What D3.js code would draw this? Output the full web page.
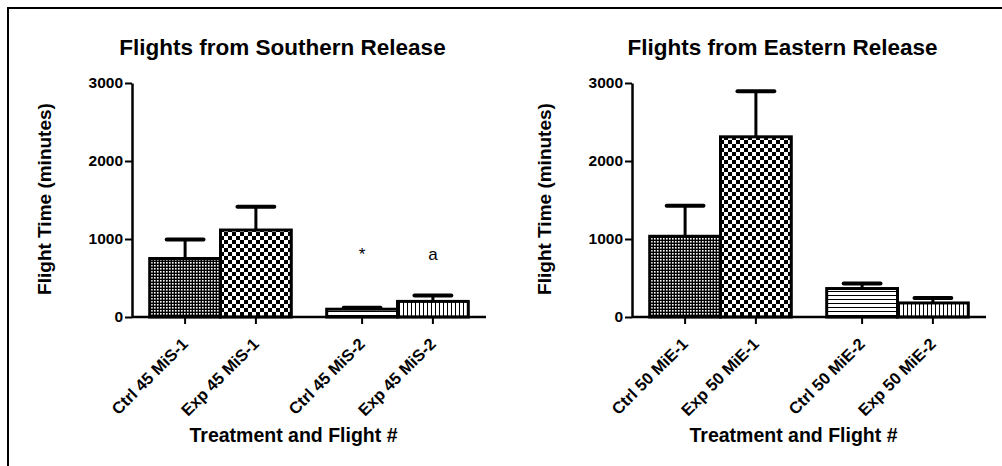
<!DOCTYPE html>
<html>
<head>
<meta charset="utf-8">
<script src="https://cdn.jsdelivr.net/npm/d3@7"></script>
<style>
  html, body { margin: 0; padding: 0; background: #fff; }
  svg { display: block; font-family: "Liberation Sans", Arial, sans-serif; }
</style>
</head>
<body>
<div id="chart"></div>
<script>
const southLabels = ['Ctrl 45 MiS-1', 'Exp 45 MiS-1', 'Ctrl 45 MiS-2', 'Exp 45 MiS-2'];
const southMeans = [750, 1115, 100, 200];
const southErrors = [245, 300, 20, 75];
const southMarks = ['', '', '*', 'a'];

const eastLabels = ['Ctrl 50 MiE-1', 'Exp 50 MiE-1', 'Ctrl 50 MiE-2', 'Exp 50 MiE-2'];
const eastMeans = [1035, 2310, 365, 180];
const eastErrors = [390, 585, 65, 65];
const eastMarks = ['', '', '', ''];

const flightGroups = ['1', '1', '2', '2'];
const yTicks = [0, 1000, 2000, 3000];
const markValue = 730;

const width = 1002;
const height = 466;
const axisColor = '#000';

const svg = d3.select('#chart')
  .append('svg')
  .attr('width', width)
  .attr('height', height);

// page frame, runs off the right and bottom edges
svg.append('rect')
  .attr('x', 8)
  .attr('y', 8)
  .attr('width', width + 20)
  .attr('height', height + 20)
  .attr('fill', 'none')
  .attr('stroke', axisColor)
  .attr('stroke-width', 2);

const defs = svg.append('defs');

function addPatterns() {
  // small white dots on black
  const dots = defs.append('pattern')
    .attr('id', 'fill-dots')
    .attr('patternUnits', 'userSpaceOnUse')
    .attr('width', 3).attr('height', 3);
  dots.append('rect').attr('width', 3).attr('height', 3).attr('fill', '#000');
  dots.append('rect').attr('x', 1).attr('y', 1).attr('width', 1.6).attr('height', 1.6).attr('fill', '#fff');

  const checker = defs.append('pattern')
    .attr('id', 'fill-checker')
    .attr('patternUnits', 'userSpaceOnUse')
    .attr('width', 8).attr('height', 8);
  checker.append('rect').attr('width', 8).attr('height', 8).attr('fill', '#fff');
  checker.append('rect').attr('width', 4).attr('height', 4).attr('fill', '#000');
  checker.append('rect').attr('x', 4).attr('y', 4).attr('width', 4).attr('height', 4).attr('fill', '#000');

  const hlines = defs.append('pattern')
    .attr('id', 'fill-hlines')
    .attr('patternUnits', 'userSpaceOnUse')
    .attr('width', 4).attr('height', 4);
  hlines.append('rect').attr('width', 4).attr('height', 4).attr('fill', '#fff');
  hlines.append('rect').attr('y', 3).attr('width', 4).attr('height', 1).attr('fill', '#000');

  const vlines = defs.append('pattern')
    .attr('id', 'fill-vlines')
    .attr('patternUnits', 'userSpaceOnUse')
    .attr('width', 4).attr('height', 4);
  vlines.append('rect').attr('width', 4).attr('height', 4).attr('fill', '#fff');
  vlines.append('rect').attr('x', 3).attr('width', 1).attr('height', 4).attr('fill', '#000');
}
addPatterns();

const fills = ['url(#fill-dots)', 'url(#fill-checker)', 'url(#fill-hlines)', 'url(#fill-vlines)'];

function drawPanel({offsetX, title, labels, means, errors, marks}) {
  const left = 132;
  const right = 486;
  const top = 83;
  const bottom = 317;

  const g = svg.append('g').attr('transform', `translate(${offsetX},0)`);

  const yScale = d3.scaleLinear().domain([0, 3000]).range([bottom, top]);

  const groupScale = d3.scaleBand()
    .domain(Array.from(new Set(flightGroups)))
    .range([left, right])
    .paddingInner(0.2)
    .paddingOuter(0.1);

  const innerScale = d3.scaleBand()
    .domain([0, 1])
    .range([0, groupScale.bandwidth()]);

  const data = labels.map((label, i) => ({
    label,
    mean: means[i],
    err: errors[i],
    mark: marks[i],
    group: flightGroups[i],
    slot: flightGroups.slice(0, i).filter(f => f === flightGroups[i]).length,
    fill: fills[i]
  }));
  data.forEach(d => {
    d.x0 = groupScale(d.group) + innerScale(d.slot);
    d.cx = d.x0 + innerScale.bandwidth() / 2;
  });

  // error bars (upper only)
  const capW = innerScale.bandwidth() * 0.52;
  g.selectAll('.stem')
    .data(data)
    .join('line')
    .attr('x1', d => d.cx).attr('x2', d => d.cx)
    .attr('y1', d => yScale(d.mean)).attr('y2', d => yScale(d.mean + d.err))
    .attr('stroke', axisColor)
    .attr('stroke-width', 3);
  g.selectAll('.cap')
    .data(data)
    .join('line')
    .attr('x1', d => d.cx - capW / 2).attr('x2', d => d.cx + capW / 2)
    .attr('y1', d => yScale(d.mean + d.err)).attr('y2', d => yScale(d.mean + d.err))
    .attr('stroke', axisColor)
    .attr('stroke-width', 4)
    .attr('stroke-linecap', 'round');

  // bars
  g.selectAll('.bar')
    .data(data)
    .join('rect')
    .attr('x', d => d.x0)
    .attr('y', d => yScale(d.mean))
    .attr('width', innerScale.bandwidth())
    .attr('height', d => bottom - yScale(d.mean))
    .attr('fill', d => d.fill)
    .attr('stroke', axisColor)
    .attr('stroke-width', 3);

  // y axis
  const yAxis = g.append('g')
    .attr('transform', `translate(${left},0)`)
    .call(d3.axisLeft(yScale)
      .tickValues(yTicks)
      .tickFormat(d3.format('d'))
      .tickSize(7)
      .tickPadding(2)
      .tickSizeOuter(0));
  yAxis.select('.domain').attr('stroke-width', 2.5);
  yAxis.selectAll('line').attr('stroke-width', 2);
  yAxis.selectAll('text')
    .attr('font-family', '"Liberation Sans", Arial, sans-serif')
    .attr('font-size', 15.5)
    .attr('font-weight', 'bold')
    .attr('fill', axisColor);

  // x axis
  const xAxisG = g.append('g').attr('transform', `translate(0,${bottom})`);
  xAxisG.append('line')
    .attr('x1', left).attr('x2', right)
    .attr('stroke', axisColor)
    .attr('stroke-width', 2.5);
  xAxisG.selectAll('.xtick')
    .data(data)
    .join('line')
    .attr('x1', d => d.cx).attr('x2', d => d.cx)
    .attr('y1', 0).attr('y2', 7)
    .attr('stroke', axisColor)
    .attr('stroke-width', 2);
  xAxisG.selectAll('.xlabel')
    .data(data)
    .join('text')
    .attr('transform', d => `translate(${d.cx + 4},${28}) rotate(-45)`)
    .attr('text-anchor', 'end')
    .attr('font-size', 16.5)
    .attr('font-weight', 'bold')
    .text(d => d.label);

  // significance marks
  g.selectAll('.mark')
    .data(data.filter(d => d.mark))
    .join('text')
    .attr('x', d => d.cx)
    .attr('y', yScale(markValue))
    .attr('text-anchor', 'middle')
    .attr('font-size', 17)
    .text(d => d.mark);

  // titles
  g.append('text')
    .attr('x', 282.5)
    .attr('y', 55)
    .attr('text-anchor', 'middle')
    .attr('font-size', 22.5)
    .attr('font-weight', 'bold')
    .text(title);

  g.append('text')
    .attr('transform', `translate(51,${(top + bottom) / 2 - 1}) rotate(-90)`)
    .attr('text-anchor', 'middle')
    .attr('font-size', 19)
    .attr('font-weight', 'bold')
    .text('Flight Time (minutes)');

  g.append('text')
    .attr('x', 293.5)
    .attr('y', 442)
    .attr('text-anchor', 'middle')
    .attr('font-size', 19.5)
    .attr('font-weight', 'bold')
    .text('Treatment and Flight #');
}

drawPanel({offsetX: 0, title: 'Flights from Southern Release',
  labels: southLabels, means: southMeans, errors: southErrors, marks: southMarks});
drawPanel({offsetX: 500, title: 'Flights from Eastern Release',
  labels: eastLabels, means: eastMeans, errors: eastErrors, marks: eastMarks});
</script>
</body>
</html>
